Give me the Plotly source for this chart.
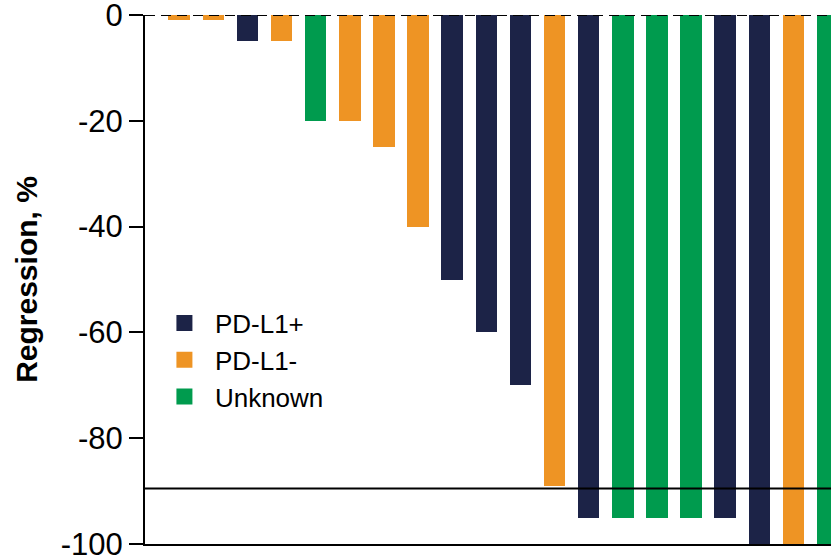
import plotly.graph_objects as go

# Per-patient best regression (%), ordered from smallest to largest response
patients = list(range(1, 21))
regression = [-1, -1, -5, -5, -20, -20, -25, -40, -50, -60,
              -70, -89, -95, -95, -95, -95, -95, -100, -100, -100]
status = ["PD-L1-", "PD-L1-", "PD-L1+", "PD-L1-", "Unknown", "PD-L1-", "PD-L1-", "PD-L1-",
          "PD-L1+", "PD-L1+", "PD-L1+", "PD-L1-", "PD-L1+", "Unknown", "Unknown",
          "Unknown", "PD-L1+", "PD-L1+", "PD-L1-", "Unknown"]
groups = ["PD-L1+", "PD-L1-", "Unknown"]
group_colors = {"PD-L1+": "#1c2347", "PD-L1-": "#ee9424", "Unknown": "#009b4e"}
y_ticks = [0, -20, -40, -60, -80, -100]
response_cutoff = -89.5

x_pos = [p - 1 for p in patients]

fig = go.Figure()
fig.add_trace(go.Bar(
    x=x_pos, y=regression,
    marker=dict(color=[group_colors[s] for s in status], line=dict(width=0)),
    width=0.63, showlegend=False,
))

# Legend entries with large square swatches
for g in groups:
    fig.add_trace(go.Scatter(
        x=[None], y=[None], mode="markers", name=g,
        marker=dict(symbol="square", size=21, color=group_colors[g]),
    ))

# Baseline at 0 (dashed) and response cutoff (solid)
fig.add_shape(type="line", xref="paper", yref="y", x0=0, x1=1, y0=0, y1=0,
              line=dict(color="black", width=2, dash="10px,6px"), layer="above")
fig.add_shape(type="line", xref="paper", yref="y", x0=0, x1=1,
              y0=response_cutoff, y1=response_cutoff,
              line=dict(color="black", width=2), layer="above")

font_family = "Liberation Sans, Arial, sans-serif"
fig.update_layout(
    width=831, height=555,
    margin=dict(l=145, r=0, t=15, b=11, autoexpand=False),
    paper_bgcolor="white", plot_bgcolor="white",
    font=dict(family=font_family, color="black"),
    bargap=0,
    legend=dict(
        x=0.013, y=0.462, xanchor="left", yanchor="top",
        font=dict(size=26, family=font_family, color="black"),
        itemwidth=51, bgcolor="rgba(0,0,0,0)", tracegroupgap=0,
    ),
    xaxis=dict(
        range=[-1, 19.1], showticklabels=False, ticks="", showgrid=False,
        zeroline=False, showline=True, linecolor="black", linewidth=2,
        automargin=False,
    ),
    yaxis=dict(
        range=[-100, 0], tickvals=y_ticks, ticktext=[str(v) for v in y_ticks],
        ticks="outside", ticklen=14, tickwidth=2, tickcolor="black",
        showline=True, linecolor="black", linewidth=2,
        showgrid=False, zeroline=False, ticklabeloverflow="allow",
        automargin=False,
        tickfont=dict(size=31, family=font_family, color="black"),
        title=dict(text="<b>Regression, %</b>", standoff=14,
                   font=dict(size=30, family=font_family, color="black")),
    ),
)

fig.write_html("out.html")
